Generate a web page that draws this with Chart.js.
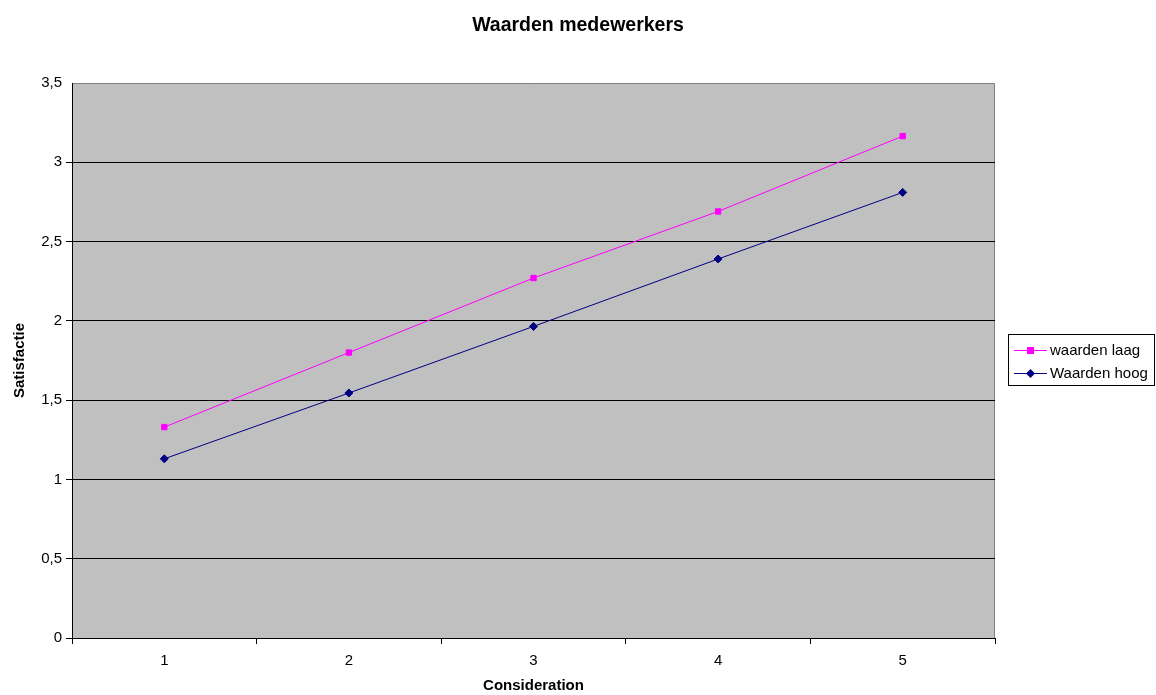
<!DOCTYPE html>
<html>
<head>
<meta charset="utf-8">
<style>
  html, body { margin: 0; padding: 0; background: #ffffff; }
  #wrap { width: 1156px; height: 695px; }
</style>
<script src="https://cdn.jsdelivr.net/npm/chart.js@4/dist/chart.umd.min.js"></script>
</head>
<body>
<div id="wrap"><canvas id="c" width="1156" height="695"></canvas></div>
<script>
const categories = ['1', '2', '3', '4', '5'];
const waardenLaag = [1.33, 1.80, 2.27, 2.69, 3.165];
const waardenHoog = [1.13, 1.545, 1.965, 2.39, 2.81];
const yTicks = [0, 0.5, 1, 1.5, 2, 2.5, 3, 3.5];
const chartTitle = 'Waarden medewerkers';

const FONT = '"Liberation Sans", Arial, sans-serif';

// Grey plot area with a thin darker frame on the top and right
const plotBackground = {
  id: 'plotBackground',
  beforeDraw(chart) {
    const { ctx, chartArea: a } = chart;
    ctx.save();
    ctx.fillStyle = '#c0c0c0';
    ctx.fillRect(a.left, a.top, a.right - a.left, a.bottom - a.top);
    ctx.strokeStyle = '#808080';
    ctx.lineWidth = 1;
    ctx.beginPath();
    ctx.moveTo(a.left, a.top + 0.5);
    ctx.lineTo(a.right - 0.5, a.top + 0.5);
    ctx.lineTo(a.right - 0.5, a.bottom);
    ctx.stroke();
    ctx.restore();
  }
};

// Title centred over the full canvas width (plot + legend)
const centredTitle = {
  id: 'centredTitle',
  afterDraw(chart) {
    const { ctx } = chart;
    ctx.save();
    ctx.font = 'bold 19.5px ' + FONT;
    ctx.fillStyle = '#000000';
    ctx.textAlign = 'center';
    ctx.textBaseline = 'middle';
    ctx.fillText(chartTitle, chart.width / 2, 26);
    ctx.restore();
  }
};

// Boxed legend to the right of the plot, drawn from the dataset styles
const boxedLegend = {
  id: 'boxedLegend',
  afterDraw(chart) {
    const { ctx } = chart;
    const x = 1008.5, y = 334.5, w = 146, h = 51;
    ctx.save();
    ctx.fillStyle = '#ffffff';
    ctx.fillRect(x, y, w, h);
    ctx.strokeStyle = '#000000';
    ctx.lineWidth = 1;
    ctx.strokeRect(x, y, w, h);
    ctx.font = '15px ' + FONT;
    ctx.textBaseline = 'middle';
    ctx.textAlign = 'left';
    const rows = [350, 373];
    chart.data.datasets.forEach((ds, i) => {
      const ry = rows[i] + 0.5;
      ctx.strokeStyle = ds.borderColor;
      ctx.beginPath();
      ctx.moveTo(1014, ry);
      ctx.lineTo(1047, ry);
      ctx.stroke();
      ctx.fillStyle = ds.pointBackgroundColor;
      if (ds.pointStyle === 'rect') {
        ctx.fillRect(1027, ry - 3.5, 7, 7);
      } else {
        ctx.beginPath();
        ctx.moveTo(1030.5, ry - 4.5);
        ctx.lineTo(1035, ry);
        ctx.lineTo(1030.5, ry + 4.5);
        ctx.lineTo(1026, ry);
        ctx.closePath();
        ctx.fill();
      }
      ctx.fillStyle = '#000000';
      ctx.fillText(ds.label, 1050, rows[i] + 1);
    });
    ctx.restore();
  }
};

new Chart(document.getElementById('c'), {
  type: 'line',
  data: {
    labels: categories,
    datasets: [
      {
        label: 'waarden laag',
        data: waardenLaag,
        borderColor: '#ff00ff',
        backgroundColor: '#ff00ff',
        pointBackgroundColor: '#ff00ff',
        pointBorderColor: '#ff00ff',
        pointStyle: 'rect',
        pointRadius: 3.8,
        pointBorderWidth: 1,
        borderWidth: 1,
        tension: 0,
        fill: false
      },
      {
        label: 'Waarden hoog',
        data: waardenHoog,
        borderColor: '#000080',
        backgroundColor: '#000080',
        pointBackgroundColor: '#000080',
        pointBorderColor: '#000080',
        pointStyle: 'rectRot',
        pointRadius: 4,
        pointBorderWidth: 1,
        borderWidth: 1,
        tension: 0,
        fill: false
      }
    ]
  },
  options: {
    responsive: false,
    animation: false,
    devicePixelRatio: 1,
    layout: { padding: { left: 0, right: 161, top: 83, bottom: 0 } },
    plugins: {
      legend: { display: false },
      tooltip: { enabled: false },
      title: { display: false }
    },
    scales: {
      x: {
        type: 'category',
        offset: true,
        grid: {
          offset: true,
          drawOnChartArea: false,
          drawTicks: true,
          tickLength: 6,
          color: '#000000'
        },
        border: { display: true, color: '#000000', width: 1 },
        ticks: {
          color: '#000000',
          padding: 8,
          maxRotation: 0,
          font: { family: FONT, size: 15 }
        },
        title: {
          display: true,
          text: 'Consideration',
          color: '#000000',
          font: { family: FONT, size: 15, weight: 'bold', lineHeight: 1.2 },
          padding: { top: 0, bottom: 0 }
        },
        afterFit(scale) { scale.height = 57; }
      },
      y: {
        min: 0,
        max: 3.5,
        afterBuildTicks(scale) { scale.ticks = yTicks.map(v => ({ value: v })); },
        grid: {
          drawTicks: true,
          tickLength: 6,
          color: ctx => (ctx.tick && ctx.tick.value === 3.5) ? 'rgba(0,0,0,0)' : '#000000'
        },
        border: { display: true, color: '#000000', width: 1 },
        ticks: {
          color: '#000000',
          padding: 4,
          font: { family: FONT, size: 15 },
          callback: v => String(v).replace('.', ',')
        },
        title: {
          display: true,
          text: 'Satisfactie',
          color: '#000000',
          font: { family: FONT, size: 15, weight: 'bold', lineHeight: 1.2 },
          padding: { top: 11, bottom: 0 }
        },
        afterFit(scale) { scale.width = 72; }
      }
    }
  },
  plugins: [plotBackground, centredTitle, boxedLegend]
});
</script>
</body>
</html>
